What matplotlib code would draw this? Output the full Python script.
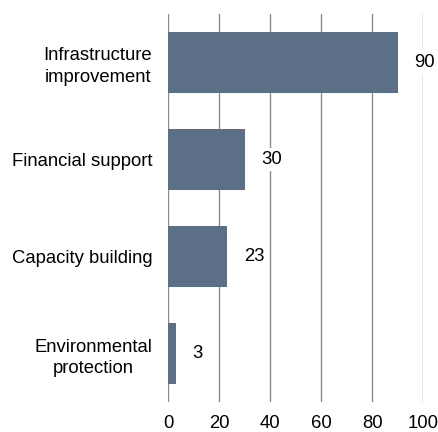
import matplotlib.pyplot as plt

categories = ['Infrastructure\nimprovement', 'Financial support', 'Capacity building', 'Environmental\nprotection']
values = [90, 30, 23, 3]
xticks = [0, 20, 40, 60, 80, 100]

plt.rcParams['font.family'] = ['Liberation Sans', 'DejaVu Sans']

fig = plt.figure(figsize=(4.39, 4.32), dpi=100)
ax = fig.add_axes([0.3834, 0.0694, 0.5809, 0.8982])

ypos = list(range(len(categories)))
ax.barh(ypos, values, height=0.62, color='#5b7086', zorder=2)

for y, v in zip(ypos, values):
    ax.annotate(str(v), xy=(v, y), xytext=(12, 0), textcoords='offset points',
                ha='left', va='center', fontsize=13.3, color='black',
                bbox=dict(boxstyle='square,pad=0.15', fc='white', ec='none'), zorder=3)

ax.set_xlim(0, 100)
ax.set_ylim(len(categories) - 0.5, -0.5)
ax.set_xticks(xticks)
ax.set_yticks(ypos)
ax.set_yticklabels(categories, multialignment='center', linespacing=1.35)
ax.tick_params(axis='both', length=0, labelsize=13.3, pad=9.5)
ax.tick_params(axis='y', pad=11.5)
ax.grid(axis='x', color='#8c8c8c', linewidth=1, zorder=1)
for s in ax.spines.values():
    s.set_visible(False)

fig.savefig('out.png', dpi=100)
